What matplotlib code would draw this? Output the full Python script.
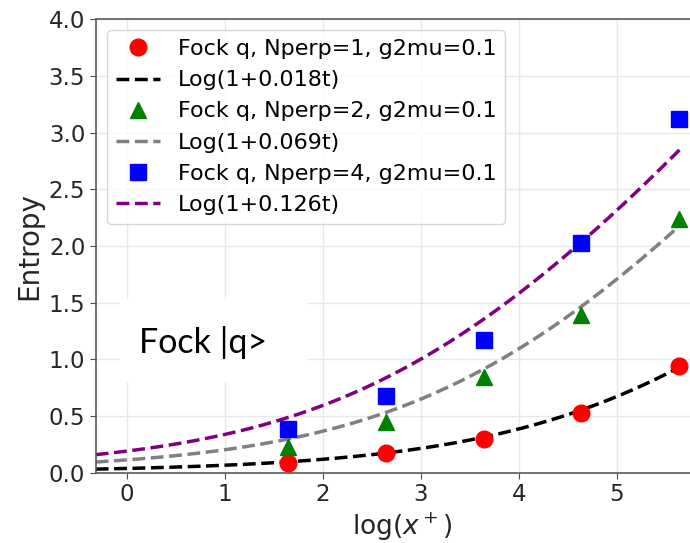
import numpy as np
import matplotlib
matplotlib.use("Agg")
import matplotlib.pyplot as plt
from matplotlib.patches import Rectangle

# measured points (x = log(x+))
x_pts = [1.64, 2.64, 3.64, 4.64, 5.64]
s_n1 = [0.088, 0.171, 0.295, 0.524, 0.944]
s_n2 = [0.229, 0.445, 0.847, 1.39, 2.24]
s_n4 = [0.383, 0.68, 1.171, 2.03, 3.12]

pt_labels = ["Fock q, Nperp=1, g2mu=0.1",
             "Fock q, Nperp=2, g2mu=0.1",
             "Fock q, Nperp=4, g2mu=0.1"]
fit_labels = ["Log(1+0.018t)", "Log(1+0.069t)", "Log(1+0.126t)"]

# fitted curves as log(1 + exp(c0 + c1 x + c2 x^2))
fit_n1 = [-3.268, 0.5633, 0.01633]
fit_n2 = [-2.125, 0.6067, 0.02392]
fit_n4 = [-1.562, 0.6236, 0.02617]
fit_range = [-0.32, 5.64]

def fit_curve(c, x):
    return np.log1p(np.exp(c[0] + c[1]*x + c[2]*x**2))

fig = plt.figure(figsize=(6.9, 5.43), dpi=100)
ax = fig.add_axes([0.1387, 0.1295, 0.890, 0.835])

xf = np.linspace(fit_range[0], fit_range[1], 300)
styles = [("o", "red", "black"), ("^", "green", "grey"), ("s", "blue", "purple")]
for ys, c, (mk, mc, lc), pl, fl in zip([s_n1, s_n2, s_n4], [fit_n1, fit_n2, fit_n4],
                                        styles, pt_labels, fit_labels):
    ax.plot(x_pts, ys, mk, color=mc, ms=12, ls="none", label=pl, zorder=3)
    ax.plot(xf, fit_curve(c, xf), "--", color=lc, lw=2.5, label=fl, zorder=2)

# white patch with the state label
ax.add_patch(Rectangle((-0.071, 0.80), 1.918, 0.73, facecolor="white",
                       edgecolor="none", zorder=1.8))
ax.text(0.12, 1.056, "Fock |q>", family="Lato", fontsize=24.5,
        ha="left", va="baseline", zorder=2.5)

ax.set_xlim(-0.32, 5.95)
ax.set_ylim(0, 4.0)
ax.set_xticks(range(0, 6))
ax.set_yticks(np.arange(0, 4.01, 0.5))
ax.tick_params(labelsize=16.5, length=4, color="0.3", labelcolor="0.15")
ax.grid(True, color="#e8e8e8", lw=1)
ax.set_axisbelow(True)
for sp in ax.spines.values():
    sp.set_color("0.35")
    sp.set_linewidth(1.2)

ax.set_xlabel("log($x^+$)", fontsize=19, labelpad=3, color="0.15")
ax.set_ylabel("Entropy", fontsize=20, labelpad=4, color="0.15")
ax.legend(loc="upper left", fontsize=16, borderaxespad=0.5)

fig.savefig("out.png", dpi=100)
